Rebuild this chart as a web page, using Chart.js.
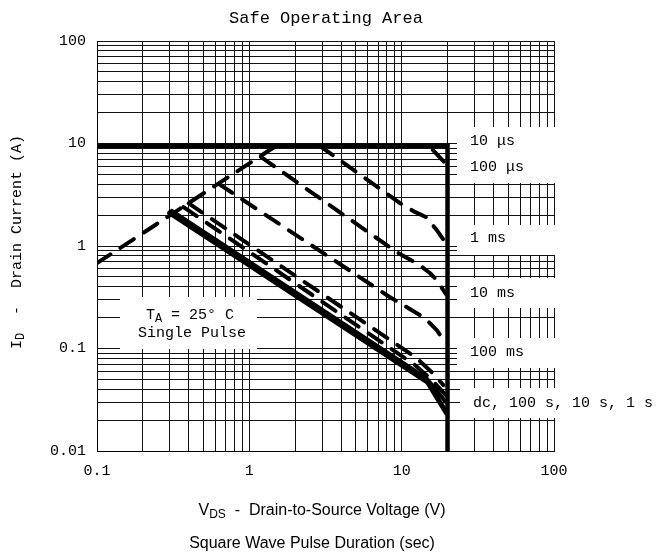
<!DOCTYPE html>
<html>
<head>
<meta charset="utf-8">
<script src="https://cdn.jsdelivr.net/npm/chart.js@4.4.1/dist/chart.umd.min.js"></script>
<style>
  html, body { margin: 0; padding: 0; background: #fff; }
</style>
</head>
<body>
<canvas id="soa" width="660" height="555"></canvas>
<script>
// tick decades (labelled) - minor gridlines at 2..9 of each decade
const xDecades = [0.1, 1, 10, 100];
const xLabels = ['0.1', '1', '10', '100'];
const yDecades = [0.01, 0.1, 1, 10, 100];
const yLabels = ['0.01', '0.1', '1', '10', '100'];

// 10 A limit + 20 V limit
const limitV = [0.1, 20, 20];
const limitI = [9.5, 9.5, 0.01];

// RDS(on) limited line
const rdsV = [0.1, 1.5];
const rdsI = [0.68, 9.5];

// pulse curves (V, A)
const us100V = [16, 19.8];
const us100I = [8.65, 6.2];

const ms1V = [2.9, 9.7, 12.2, 14.4, 17.0, 19.5];
const ms1I = [9.5, 2.63, 2.15, 1.92, 1.43, 1.07];

const ms10V = [1.19, 9.26, 13.1, 15.3, 17.0, 19.5];
const ms10I = [7.4, 0.873, 0.653, 0.545, 0.466, 0.34];

const ms100V = [0.63, 8.34, 14.2, 17.0, 19.4];
const ms100I = [4.03, 0.318, 0.198, 0.151, 0.113];

const s1V = [0.40, 12.5, 15.7, 18.8];
const s1I = [2.6, 0.081, 0.059, 0.044];

const s10V = [0.37, 12.2, 15.3, 19.5];
const s10I = [2.4, 0.069, 0.0516, 0.035];

const s100V = [0.31, 14.6, 19.5];
const s100I = [2.2, 0.051, 0.03];

const dcV = [0.30, 14.8, 19.7];
const dcI = [2.1, 0.047, 0.0234];

const curveLabels = ['10 μs', '100 μs', '1 ms', '10 ms', '100 ms', 'dc, 100 s, 10 s, 1 s'];

const MONO = '"Liberation Mono", "DejaVu Sans Mono", monospace';
const SANS = '"Liberation Sans", Arial, sans-serif';

function pts(xs, ys) {
  return xs.map((v, i) => ({ x: v, y: ys[i] }));
}

function logGrid(decades) {
  const vals = [];
  for (let d = 0; d < decades.length - 1; d++) {
    for (let k = 1; k < 10; k++) vals.push(+(decades[d] * k).toPrecision(3));
  }
  vals.push(decades[decades.length - 1]);
  return vals;
}

const dash = [16, 12];
function curve(data, opts) {
  return Object.assign({
    data: data,
    borderColor: '#000',
    borderWidth: 4,
    borderDash: dash,
    borderCapStyle: 'round',
    borderJoinStyle: 'round',
    pointRadius: 0,
    tension: 0,
    fill: false
  }, opts || {});
}

// draw text runs with subscripts
function drawRuns(ctx, runs, x, y, align) {
  let total = 0;
  runs.forEach(r => { ctx.font = r.font; total += ctx.measureText(r.t).width; });
  let cx = align === 'center' ? x - total / 2 : x;
  ctx.textAlign = 'left';
  ctx.textBaseline = 'middle';
  runs.forEach(r => {
    ctx.font = r.font;
    ctx.fillText(r.t, cx, y + (r.dy || 0));
    cx += ctx.measureText(r.t).width;
  });
}

const annotations = {
  id: 'annotations',
  beforeDatasetsDraw(chart) {
    const ctx = chart.ctx;
    ctx.save();
    ctx.fillStyle = '#fff';
    // label boxes on the right blank out the grid
    ctx.fillRect(457, 127, 100, 56);
    ctx.fillRect(457, 225, 100, 30);
    ctx.fillRect(457, 278, 100, 30);
    ctx.fillRect(457, 338, 100, 30);
    ctx.fillRect(460, 388, 200, 30);
    // conditions box
    ctx.fillRect(120, 297, 137, 52);
    ctx.restore();
  },
  afterDraw(chart) {
    const ctx = chart.ctx;
    ctx.save();
    ctx.fillStyle = '#000';

    // title
    ctx.font = '17px ' + MONO;
    ctx.textAlign = 'center';
    ctx.textBaseline = 'middle';
    ctx.fillText('Safe Operating Area', 326, 18);

    // curve labels
    ctx.font = '15px ' + MONO;
    ctx.textAlign = 'left';
    const ly = [141, 167, 238, 293, 352, 403];
    curveLabels.forEach((t, i) => {
      ctx.fillText(t, i === 5 ? 473 : 470, ly[i]);
    });

    // conditions
    drawRuns(ctx, [
      { t: 'T', font: '15px ' + MONO },
      { t: 'A', font: '12px ' + MONO, dy: 4 },
      { t: ' = 25° C', font: '15px ' + MONO }
    ], 190, 315, 'center');
    ctx.font = '15px ' + MONO;
    ctx.textAlign = 'center';
    ctx.fillText('Single Pulse', 192, 333);

    // x axis titles
    drawRuns(ctx, [
      { t: 'V', font: '16px ' + SANS },
      { t: 'DS', font: '12px ' + SANS, dy: 4 },
      { t: '  -  Drain-to-Source Voltage (V)', font: '16px ' + SANS }
    ], 322, 511, 'center');
    ctx.font = '16px ' + SANS;
    ctx.textAlign = 'center';
    ctx.fillText('Square Wave Pulse Duration (sec)', 312, 544);

    // y axis title
    ctx.translate(17, 242);
    ctx.rotate(-Math.PI / 2);
    drawRuns(ctx, [
      { t: 'I', font: '15px ' + MONO },
      { t: 'D', font: '12px ' + MONO, dy: 4 },
      { t: '  -  Drain Current (A)', font: '15px ' + MONO }
    ], 0, 0, 'center');
    ctx.restore();
  }
};

const xGrid = logGrid(xDecades);
const yGrid = logGrid(yDecades);

new Chart(document.getElementById('soa'), {
  type: 'line',
  data: {
    datasets: [
      curve(pts(limitV, limitI), { borderDash: [], borderWidth: 4.5, borderCapStyle: 'butt', borderJoinStyle: 'miter' }),
      curve(pts(rdsV, rdsI)),
      curve(pts(us100V, us100I)),
      curve(pts(ms1V, ms1I)),
      curve(pts(ms10V, ms10I)),
      curve(pts(ms100V, ms100I)),
      curve(pts(s1V, s1I)),
      curve(pts(s10V, s10I)),
      curve(pts(s100V, s100I), { borderDash: [], borderWidth: 4 }),
      curve(pts(dcV, dcI), { borderDash: [], borderWidth: 5 })
    ]
  },
  options: {
    responsive: false,
    animation: false,
    parsing: false,
    layout: { padding: { left: 0, right: 106, top: 41, bottom: 0 } },
    plugins: {
      legend: { display: false },
      tooltip: { enabled: false },
      title: { display: false }
    },
    scales: {
      x: {
        type: 'logarithmic',
        min: 0.1,
        max: 100,
        afterBuildTicks: (scale) => { scale.ticks = xGrid.map(v => ({ value: v })); },
        afterFit: (scale) => { scale.height = 104; },
        grid: { color: '#111', lineWidth: 1, drawTicks: false },
        border: { color: '#000', width: 1 },
        ticks: {
          autoSkip: false,
          maxRotation: 0,
          minRotation: 0,
          padding: 11,
          color: '#000',
          font: { family: MONO, size: 15 },
          callback: (v) => {
            const i = xDecades.findIndex(d => Math.abs(d - v) < d * 1e-6);
            return i >= 0 ? xLabels[i] : '';
          }
        }
      },
      y: {
        type: 'logarithmic',
        min: 0.01,
        max: 100,
        afterBuildTicks: (scale) => { scale.ticks = yGrid.map(v => ({ value: v })); },
        afterFit: (scale) => { scale.width = 97; },
        grid: { color: '#111', lineWidth: 1, drawTicks: false },
        border: { color: '#000', width: 1 },
        ticks: {
          autoSkip: false,
          padding: 11,
          color: '#000',
          font: { family: MONO, size: 15 },
          callback: (v) => {
            const i = yDecades.findIndex(d => Math.abs(d - v) < d * 1e-6);
            return i >= 0 ? yLabels[i] : '';
          }
        }
      }
    }
  },
  plugins: [annotations]
});
</script>
</body>
</html>
